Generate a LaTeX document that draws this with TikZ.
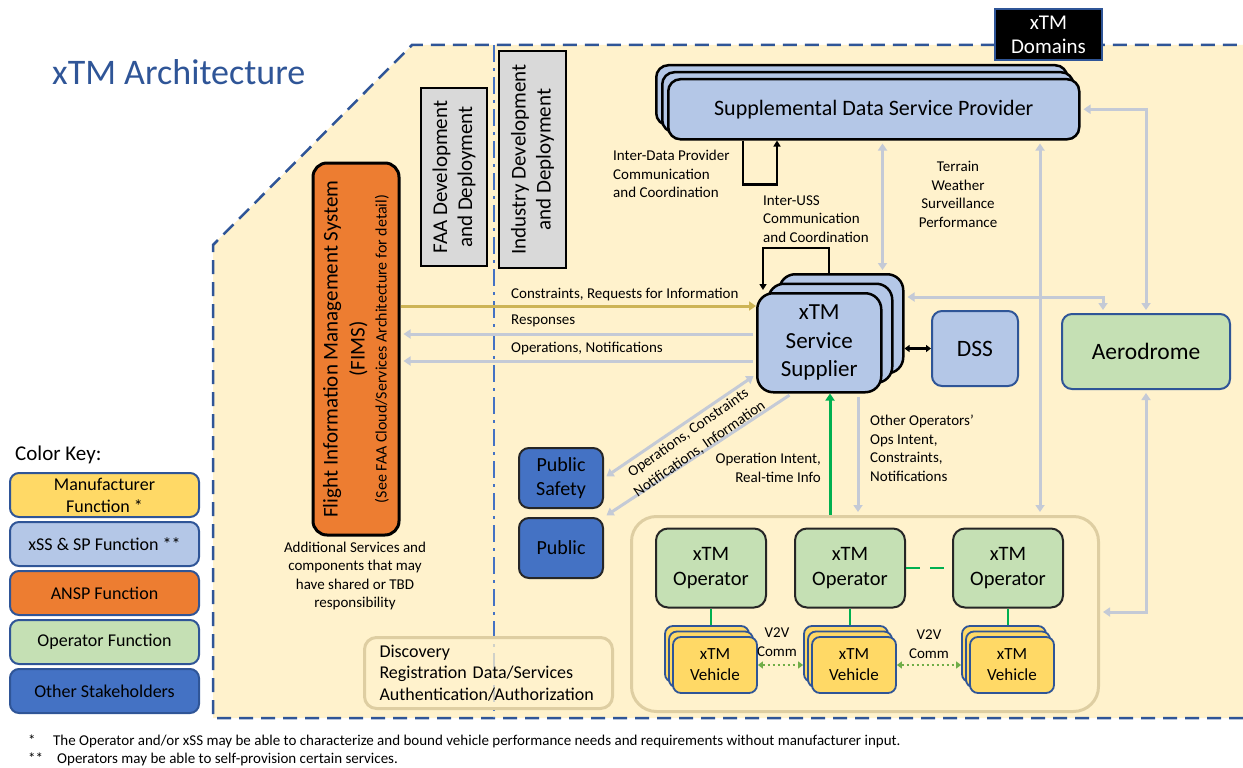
\documentclass[tikz,border=0pt]{standalone}
\usepackage{fontspec}
\setmainfont{Carlito}
\usetikzlibrary{arrows.meta,calc,positioning}

\definecolor{paper}{HTML}{FFF2CC}
\definecolor{navy}{HTML}{2F5597}
\definecolor{midblue}{HTML}{4472C4}
\definecolor{lblue}{HTML}{B4C7E7}
\definecolor{ansp}{HTML}{ED7D31}
\definecolor{opgreen}{HTML}{C5E0B4}
\definecolor{manu}{HTML}{FFD966}
\definecolor{greybox}{HTML}{D9D9D9}
\definecolor{flowc}{RGB}{196,202,214}
\definecolor{goldc}{RGB}{205,180,85}
\definecolor{intent}{HTML}{00B050}
\definecolor{v2vc}{HTML}{70AD47}
\definecolor{sand}{RGB}{222,206,162}
\definecolor{ink}{HTML}{262626}

\def\fsz#1#2{\fontsize{#1}{#2}\selectfont}

\begin{document}
\begin{tikzpicture}[x=1pt,y=-1pt,
  every node/.style={inner sep=0pt,align=center},
  >={Triangle[length=7pt,width=9pt]},
  lbl/.style={font=\fsz{15}{18.5}},
  box/.style={draw,line width=2pt,rounded corners=10pt},
  sdspbox/.style={box,line width=2.5pt,fill=lblue,minimum width=411pt,minimum height=60pt,rounded corners=12pt,anchor=north west},
  ssbox/.style={box,line width=2.5pt,fill=lblue,minimum width=124pt,minimum height=99pt,rounded corners=16pt,anchor=north west},
  opbox/.style={box,draw=ink,fill=opgreen,minimum width=110pt,minimum height=79pt,rounded corners=12pt,font=\fsz{20.5}{24.5}},
  vehbox/.style={box,draw=navy,line width=1.8pt,fill=manu,minimum width=84pt,minimum height=56pt,rounded corners=8pt,font=\fsz{17}{21}},
  keybox/.style={box,draw=navy,minimum width=189pt,minimum height=44pt,rounded corners=9pt,font=\fsz{18}{22}},
  bluebox/.style={box,draw=navy,minimum height=75pt,font=\fsz{23.5}{28}},
  stake/.style={box,draw=ink,fill=midblue,minimum width=84pt,minimum height=60pt,font=\fsz{20}{24}},
  greybar/.style={draw,line width=2pt,fill=greybox,rotate=90,font=\fsz{21}{25}},
  sandbox/.style={draw=sand,line width=3pt,rounded corners=#1},
  flowl/.style={draw=flowc,line width=3pt,shorten <=3pt,shorten >=3pt},
  loopl/.style={line width=2.5pt,->,>={Triangle[length=6pt,width=7pt]}}
]
\useasboundingbox (0,0) rectangle (1243,768);

% domain area and the FAA / industry split
\fill[paper] (213,718) -- (213,245) -- (412,45) -- (1243,45) -- (1243,718) -- cycle;
\draw[navy,line width=2.5pt,dash pattern=on 14pt off 8pt] (1243,718) -- (213,718) -- (213,245) -- (412,45) -- (1243,45);
\draw[midblue,line width=2.5pt,dash pattern=on 17pt off 6pt on 3pt off 6pt] (494,45) -- (494,718);

\node[anchor=west,text=navy,font=\fsz{36}{40}] (title) at (52,72) {xTM Architecture};
\node[fill=black,draw=navy,line width=2pt,text=white,minimum width=107pt,minimum height=51pt,font=\fsz{21}{24}] (dom) at (1048.5,34.5) {xTM\\Domains};

\node[greybar,minimum width=178pt,minimum height=66pt] (faa) at (454,177) {FAA Development\\and Deployment};
\node[greybar,minimum width=217pt,minimum height=67pt] (ind) at (532.5,159.5) {Industry Development\\and Deployment};

% FIMS
\node[box,line width=3pt,fill=ansp,rounded corners=14pt,rotate=90,minimum width=372pt,minimum height=86pt,font=\fsz{21}{27}] (fims) at (356,349)
  {Flight Information Management System\\(FIMS)\\[-5pt]{\fsz{16}{20}(See FAA Cloud/Services Architecture for detail)}};
\node[lbl] (addl) at (355,576) {Additional Services and\\components that may\\have shared or TBD\\responsibility};

% supplemental data service provider
\foreach \k in {2,1} \node[sdspbox] (sdsp\k) at (667-6*\k,78-7*\k) {};
\node[sdspbox,font=\fsz{22}{26}] (sdsp) at (667,78) {Supplemental Data Service Provider};
\draw[loopl] ($(sdsp.south west)+(76,0)$) -- ++(0,44) -| ($(sdsp.south west)+(110,0)$);
\node[lbl,anchor=west,align=left] (idp) at (613,174) {Inter-Data Provider\\Communication\\and Coordination};

% service supplier
\foreach \k in {2,1} \node[ssbox] (ss\k) at (756+11*\k,292-9.5*\k) {};
\node[ssbox,font=\fsz{23}{28.5}] (ss) at (756,292) {xTM\\Service\\Supplier};
\draw[loopl] ($(ss2.north west)+(51,0)$) -- ++(0,-25) -| ($(ss.north west)+(7,-2)$);
\node[lbl,anchor=west,align=left] (iuss) at (763,219) {Inter-USS\\Communication\\and Coordination};
\node[lbl] (terr) at (958,194.5) {Terrain\\Weather\\Surveillance\\Performance};

\node[bluebox,fill=lblue,minimum width=86pt] (dss) at (975,348.5) {DSS};
\node[bluebox,fill=opgreen,minimum width=168pt] (aero) at (1146,351.5) {Aerodrome};
\draw[line width=2.5pt,<->,>={Triangle[length=5pt,width=7pt]}] (dss.west -| ss2.east) -- (dss.west);

% stakeholders
\node[stake] (psafe) at (561,478) {Public\\Safety};
\node[stake] (pub) at (561,548) {Public};

% operators and vehicles
\node[sandbox=25pt,minimum width=467pt,minimum height=195pt,anchor=north west] (grp) at (630,515) {};
\foreach \x [count=\i] in {711,850,1008} \node[opbox] (op\i) at (\x,568) {xTM\\Operator};
\foreach \x [count=\i] in {715,854,1012} {
  \foreach \k in {2,1} \node[vehbox] (veh\i-\k) at (\x-4*\k,665-5.5*\k) {};
  \node[vehbox] (veh\i) at (\x,665) {xTM\\Vehicle};
  \draw[intent,line width=2.5pt] (op\i.south) -- (op\i.south |- veh\i-2.north);
}
\draw[intent,line width=2.5pt,dash pattern=on 14pt off 10pt] (op2.east) -- (op3.west);
\foreach \a/\b in {1/2,2/3}
  \draw[v2vc,line width=2.5pt,dash pattern=on 2.5pt off 2.5pt,<->,>={Triangle[length=5pt,width=7pt]}] (veh\a.east) -- (veh\b-2.west |- veh\a.east);
\node[lbl] (v2va) at (777,642) {V2V\\Comm};
\node[lbl] (v2vb) at (929,644) {V2V\\Comm};

\node[sandbox=12pt,fill=paper,fill opacity=.75,text opacity=1,minimum width=248pt,minimum height=71pt,text width=218pt,inner xsep=15pt,align=left,anchor=north west,font=\fsz{18}{21.5}] (disc) at (363,636)
  {Discovery\\Registration Data/Services\\Authentication/Authorization};

% flows to and from FIMS
\draw[goldc,line width=3pt,->] (fims.south |- 0,306) -- (ss.west |- 0,306);
\draw[flowl,->] (ss.west |- 0,334) -- (fims.south |- 0,334);
\draw[flowl,->] (ss.west |- 0,361) -- (fims.south |- 0,361);
\node[lbl,anchor=west] (cri) at (511,295) {Constraints, Requests for Information};
\node[lbl,anchor=west] (resp) at (511,321) {Responses};
\node[lbl,anchor=west] (opn) at (511,349) {Operations, Notifications};

% flows to stakeholders
\draw[flowl,<->] ($(ss.south west)+(0,-19)$) -- (psafe.east);
\draw[flowl,->] ($(ss.south west)+(36,0)$) -- (pub.north east);
\node[rotate=35,font=\fsz{15}{19.5}] (opc) at (694,441) {Operations, Constraints\\Notifications, Information};

% flows between service supplier, operators, data providers, aerodrome
\coordinate (oi) at ($(ss.south west)+(74,0)$);
\draw[intent,line width=3pt,->] (oi |- grp.north) -- (oi);
\node[lbl,anchor=east,align=right] (oint) at (821,468) {Operation Intent,\\Real-time Info};
\coordinate (oo) at ($(ss.south west)+(102,0)$);
\draw[flowl,->] (oo) -- (oo |- grp.north);
\node[lbl,anchor=west,align=left] (ooi) at (870,448.5) {Other Operators'\\Ops Intent,\\Constraints,\\Notifications};

\coordinate (sx) at ($(ss2.north east)+(-22,0)$);
\draw[flowl,<->] (sx) -- (sx |- sdsp.south);
\coordinate (sg) at ($(sdsp.south west)+(373,0)$);
\draw[flowl,<->] (sg) -- (sg |- grp.north);
\draw[flowl,<->] (sdsp.east) -| (aero.north);
\coordinate (sa) at ($(ss2.north east)+(0,24)$);
\coordinate (ae) at ($(aero.north west)+(42,0)$);
\draw[flowl,<->] (sa) -| (ae);
\draw[flowl,<->] (aero.south) |- ($(grp.north east)+(0,97)$);

% colour key
\node[anchor=west,font=\fsz{21}{25}] (keyt) at (15,455) {Color Key:};
\foreach \c/\t [count=\i] in {manu/{Manufacturer\\Function *},lblue/{xSS \& SP Function **},ansp/{ANSP Function},opgreen/{Operator Function},midblue/{Other Stakeholders}}
  \node[keybox,fill=\c] (key\i) at (104.5,446+49*\i) {\t};

\node[anchor=west,font=\fsz{15}{18}] (fn1) at (28,741) {\makebox[25pt][l]{*}The Operator and/or xSS may be able to characterize and bound vehicle performance needs and requirements without manufacturer input.};
\node[anchor=west,font=\fsz{15}{18}] (fn2) at (28,759) {\makebox[29pt][l]{**}Operators may be able to self-provision certain services.};
\end{tikzpicture}
\end{document}
